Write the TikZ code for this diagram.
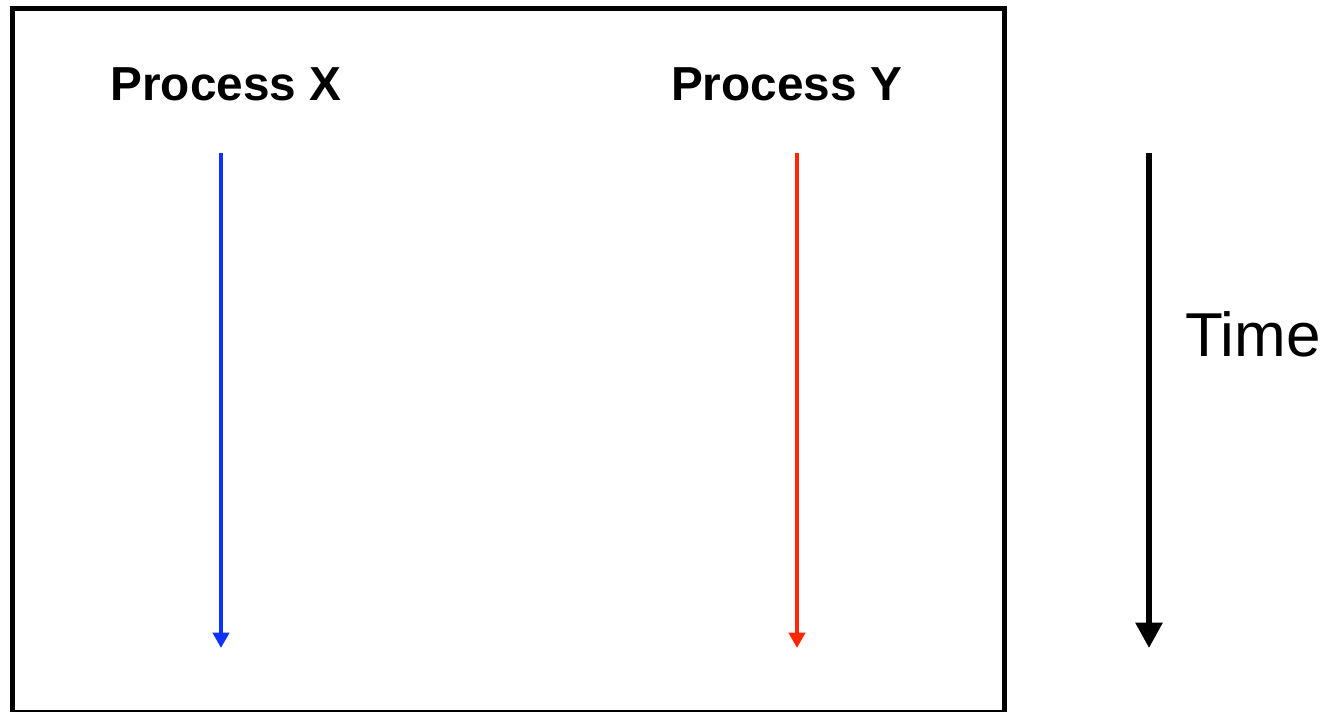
\documentclass[tikz,border=0pt]{standalone}
\usepackage{fontspec}
\setmainfont{Liberation Sans}
\usetikzlibrary{arrows.meta}
\definecolor{procblue}{RGB}{16,50,255}
\definecolor{procred}{RGB}{255,38,0}
\tikzset{
  outerbox/.style={line width=3.75pt, draw=black},
  proclabel/.style={font=\fontsize{35.8}{40}\selectfont\bfseries, inner sep=0pt, anchor=base},
  timelabel/.style={font=\fontsize{46.5}{50}\selectfont, inner sep=0pt, anchor=base west},
  procline/.style={line width=3.4pt, -{Triangle[width=12pt,length=11.5pt]}},
  timeline/.style={line width=4.2pt, -{Triangle[width=19.5pt,length=19pt]}},
}
\begin{document}
\begin{tikzpicture}[x=0.75pt,y=-0.75pt]
\useasboundingbox (0,0) rectangle (1333,711);
\draw[outerbox] (12.5,8.5) rectangle (1004.5,712.8);
% process names
\node[proclabel] (px) at (226,100) {Process X};
\node[proclabel] (py) at (786.5,100) {Process Y};
% lifelines
\coordinate (xtop) at (221,153);
\coordinate (xend) at (221,648);
\coordinate (ytop) at (797,153);
\coordinate (yend) at (797,648);
\draw[procline, procblue] (xtop) -- (xend);
\draw[procline, procred] (ytop) -- (yend);
% time axis
\coordinate (ttop) at (1149,153);
\coordinate (tend) at (1149,648);
\draw[timeline] (ttop) -- (tend);
\node[timelabel] (time) at (1185,356) {Time};
\end{tikzpicture}
\end{document}
